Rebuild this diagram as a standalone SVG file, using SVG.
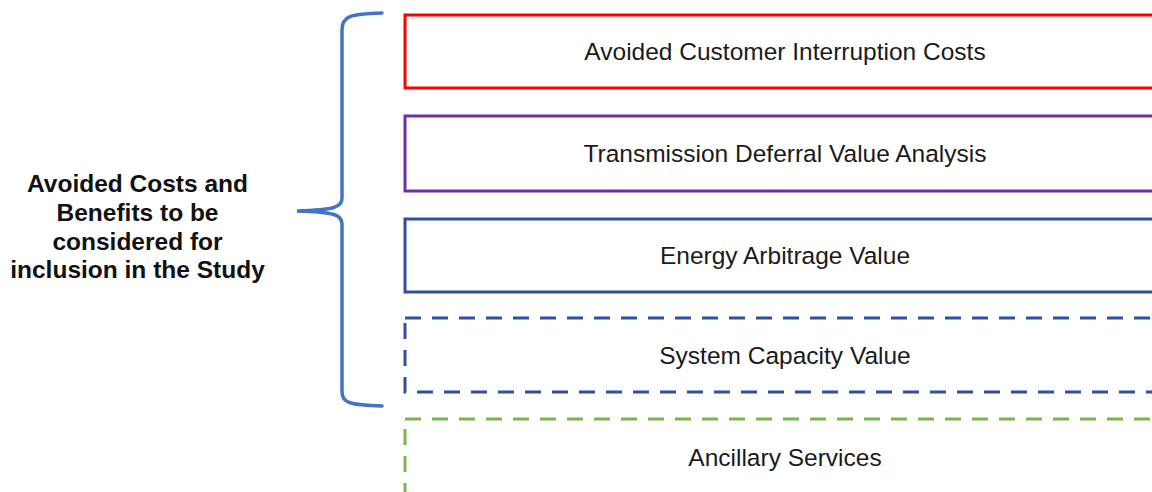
<svg xmlns="http://www.w3.org/2000/svg" width="1152" height="492" viewBox="0 0 1152 492">
<style>
.box{fill:none;stroke-width:3}
.lbl{font-family:"Liberation Sans",Arial,sans-serif;font-size:24.5px;fill:#1a1a1a;text-anchor:middle}
.side{font-family:"Liberation Sans",Arial,sans-serif;font-size:24.5px;font-weight:bold;fill:#111;text-anchor:middle}
</style>
<rect width="1152" height="492" fill="#ffffff"/>
<g id="brace">
<path d="M382,13 C350,14 342,16 342,30 L342,198 C342,207 335,210 297,211 C335,212 342,215 342,224 L342,392 C342,403 350,405 382,406" fill="none" stroke="#4472C4" stroke-width="3.5" stroke-linecap="round"/>
</g>
<g id="category">
<text class="side" x="137.5" y="192">Avoided Costs and</text>
<text class="side" x="137.5" y="221">Benefits to be</text>
<text class="side" x="137.5" y="250">considered for</text>
<text class="side" x="137.5" y="278">inclusion in the Study</text>
</g>
<g id="node1">
<rect class="box" x="405" y="15" width="760" height="73" stroke="#FF0000"/>
<text class="lbl" x="785" y="60">Avoided Customer Interruption Costs</text>
</g>
<g id="node2">
<rect class="box" x="405" y="116" width="760" height="75" stroke="#7030A0"/>
<text class="lbl" x="785" y="162">Transmission Deferral Value Analysis</text>
</g>
<g id="node3">
<rect class="box" x="405" y="219" width="760" height="73" stroke="#2F4F9F"/>
<text class="lbl" x="785" y="264">Energy Arbitrage Value</text>
</g>
<g id="node4">
<rect class="box" x="405" y="318" width="760" height="74" stroke="#2F4F9F" stroke-dasharray="16 11"/>
<text class="lbl" x="785" y="364">System Capacity Value</text>
</g>
<g id="node5">
<rect class="box" x="405" y="419" width="760" height="90" stroke="#7AB648" stroke-dasharray="16 11"/>
<text class="lbl" x="785" y="466">Ancillary Services</text>
</g>
<g id="connectors"></g>
</svg>
